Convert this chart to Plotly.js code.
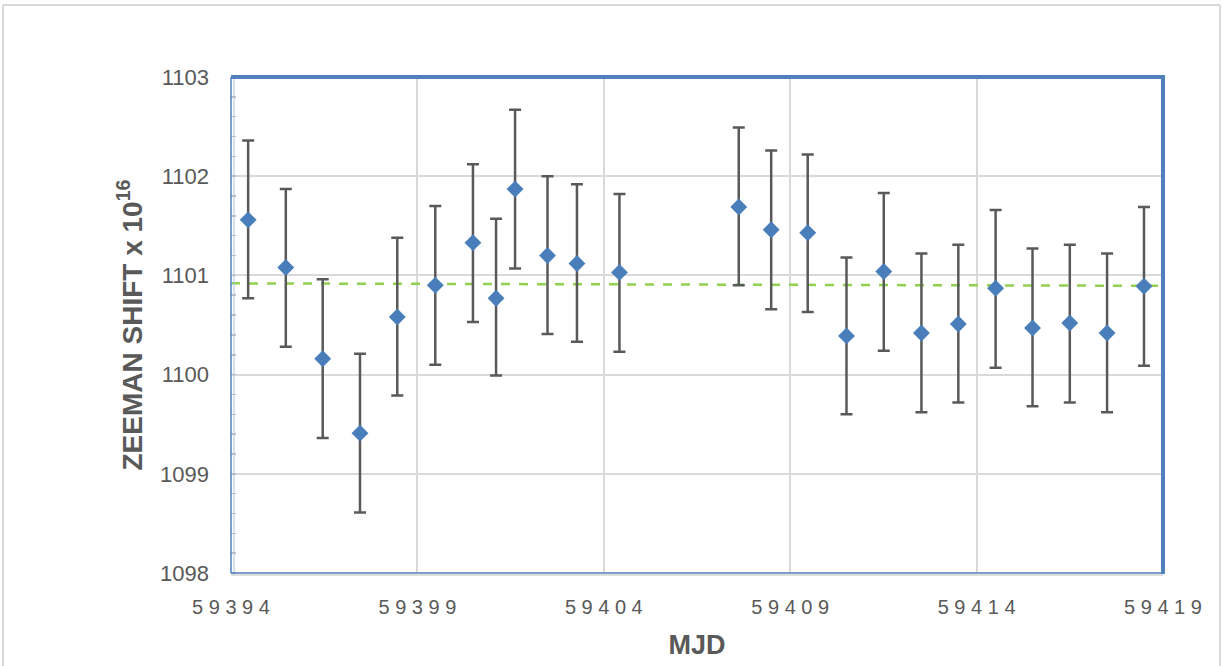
<!DOCTYPE html>
<html>
<head>
<meta charset="utf-8">
<script src="https://cdn.plot.ly/plotly-3.0.1.min.js"></script>
<style>
  html, body { margin: 0; padding: 0; background: #ffffff; }
  #chart { width: 1223px; height: 666px; }
</style>
</head>
<body>
<div id="chart"></div>
<script>
// ---- data ----
const mjd = [59394.46, 59395.47, 59396.46, 59397.46, 59398.46, 59399.48, 59400.49, 59401.11,
             59401.62, 59402.49, 59403.28, 59404.42, 59407.62, 59408.49, 59409.47, 59410.51,
             59411.51, 59412.52, 59413.51, 59414.51, 59415.50, 59416.50, 59417.50, 59418.49];
const zeemanShift = [1101.56, 1101.08, 1100.16, 1099.41, 1100.58, 1100.90, 1101.33, 1100.77,
                     1101.87, 1101.20, 1101.12, 1101.03, 1101.69, 1101.46, 1101.43, 1100.39,
                     1101.04, 1100.42, 1100.51, 1100.87, 1100.47, 1100.52, 1100.42, 1100.89];
const errPlus  = [0.80, 0.79, 0.80, 0.80, 0.80, 0.80, 0.79, 0.80, 0.80, 0.80, 0.80, 0.79,
                  0.80, 0.80, 0.79, 0.79, 0.79, 0.80, 0.80, 0.79, 0.80, 0.79, 0.80, 0.80];
const errMinus = [0.79, 0.80, 0.80, 0.80, 0.79, 0.80, 0.80, 0.78, 0.80, 0.79, 0.79, 0.80,
                  0.79, 0.80, 0.80, 0.79, 0.80, 0.80, 0.79, 0.80, 0.79, 0.80, 0.80, 0.80];
const trendX = [59394, 59419];
const trendY = [1100.92, 1100.895];
const xTickVals = [59394, 59399, 59404, 59409, 59414, 59419];
const xTickText = ["5 9 3 9 4", "5 9 3 9 9", "5 9 4 0 4", "5 9 4 0 9", "5 9 4 1 4", "5 9 4 1 9"];
const yTickVals = [1098, 1099, 1100, 1101, 1102, 1103];

const FONT = "Liberation Sans, Arial, sans-serif";
const GRAY = "#595959";
const BLUE = "#4F81BD";

const traces = [
  {
    x: trendX, y: trendY, type: "scatter", mode: "lines",
    line: { color: "#92D050", width: 2.5, dash: "dash" },
    hoverinfo: "skip", showlegend: false
  },
  {
    x: mjd, y: zeemanShift, type: "scatter", mode: "markers",
    marker: { symbol: "diamond", size: 13, color: "#4A7EBB" },
    error_y: { type: "data", symmetric: false, array: errPlus, arrayminus: errMinus,
               color: GRAY, thickness: 2.5, width: 6 },
    showlegend: false
  }
];

const pxX = v => (v - 231) / 932;
const pxY = v => (573 - v) / 496;

const layout = {
  width: 1223, height: 666,
  margin: { l: 231, r: 60, t: 77, b: 93, pad: 0 },
  paper_bgcolor: "#ffffff", plot_bgcolor: "#ffffff",
  showlegend: false,
  xaxis: {
    range: [59394, 59419],
    tickmode: "array", tickvals: xTickVals, ticktext: xTickText,
    showgrid: true, gridcolor: "#D9D9D9", gridwidth: 2,
    zeroline: false, showline: false, ticks: "",
    ticklabelstandoff: 20,
    tickfont: { family: FONT, size: 20, color: GRAY },
    title: { text: "<b>MJD</b>", standoff: 18, font: { family: FONT, size: 27, color: GRAY } }
  },
  yaxis: {
    range: [1098, 1103],
    tickmode: "array", tickvals: yTickVals,
    showgrid: true, gridcolor: "#D9D9D9", gridwidth: 2,
    zeroline: false, showline: false, ticks: "",
    ticklabelstandoff: 21,
    tickfont: { family: FONT, size: 22, color: GRAY },
    minor: { dtick: 0.2, ticks: "inside", ticklen: 5, tickwidth: 1.5, tickcolor: "#BFBFBF", showgrid: false },
    title: { text: "<b>ZEEMAN SHIFT x 10<sup>16</sup></b>", standoff: 9,
             font: { family: FONT, size: 28, color: GRAY } }
  },
  shapes: [
    // outer frame
    { type: "line", xref: "paper", yref: "paper", x0: pxX(3), x1: pxX(1220), y0: pxY(5), y1: pxY(5),
      line: { color: "#D9D9D9", width: 2 } },
    { type: "line", xref: "paper", yref: "paper", x0: pxX(3), x1: pxX(3), y0: pxY(5), y1: pxY(680),
      line: { color: "#D9D9D9", width: 2 } },
    { type: "line", xref: "paper", yref: "paper", x0: pxX(1220), x1: pxX(1220), y0: pxY(5), y1: pxY(680),
      line: { color: "#D9D9D9", width: 2 } },
    // plot border
    { type: "line", xref: "paper", yref: "paper", x0: 0, x1: 0, y0: 0, y1: 1,
      line: { color: BLUE, width: 1.5 } },
    { type: "line", xref: "paper", yref: "paper", x0: 3 / 932, x1: 3 / 932, y0: 0, y1: 1,
      line: { color: "#A9C4E4", width: 1 } },
    { type: "line", xref: "paper", yref: "paper", x0: 0, x1: 1, y0: 0, y1: 0,
      line: { color: BLUE, width: 1.5 } },
    { type: "line", xref: "paper", yref: "paper", x0: 0, x1: 1, y0: -2 / 496, y1: -2 / 496,
      line: { color: "#BFBFBF", width: 1 } },
    { type: "line", xref: "paper", yref: "paper", x0: 0, x1: 1.002, y0: 1, y1: 1,
      line: { color: BLUE, width: 4 } },
    { type: "line", xref: "paper", yref: "paper", x0: 1, x1: 1, y0: -0.002, y1: 1.004,
      line: { color: BLUE, width: 4 } }
  ]
};

Plotly.newPlot("chart", traces, layout, { displayModeBar: false, staticPlot: true });
</script>
</body>
</html>
